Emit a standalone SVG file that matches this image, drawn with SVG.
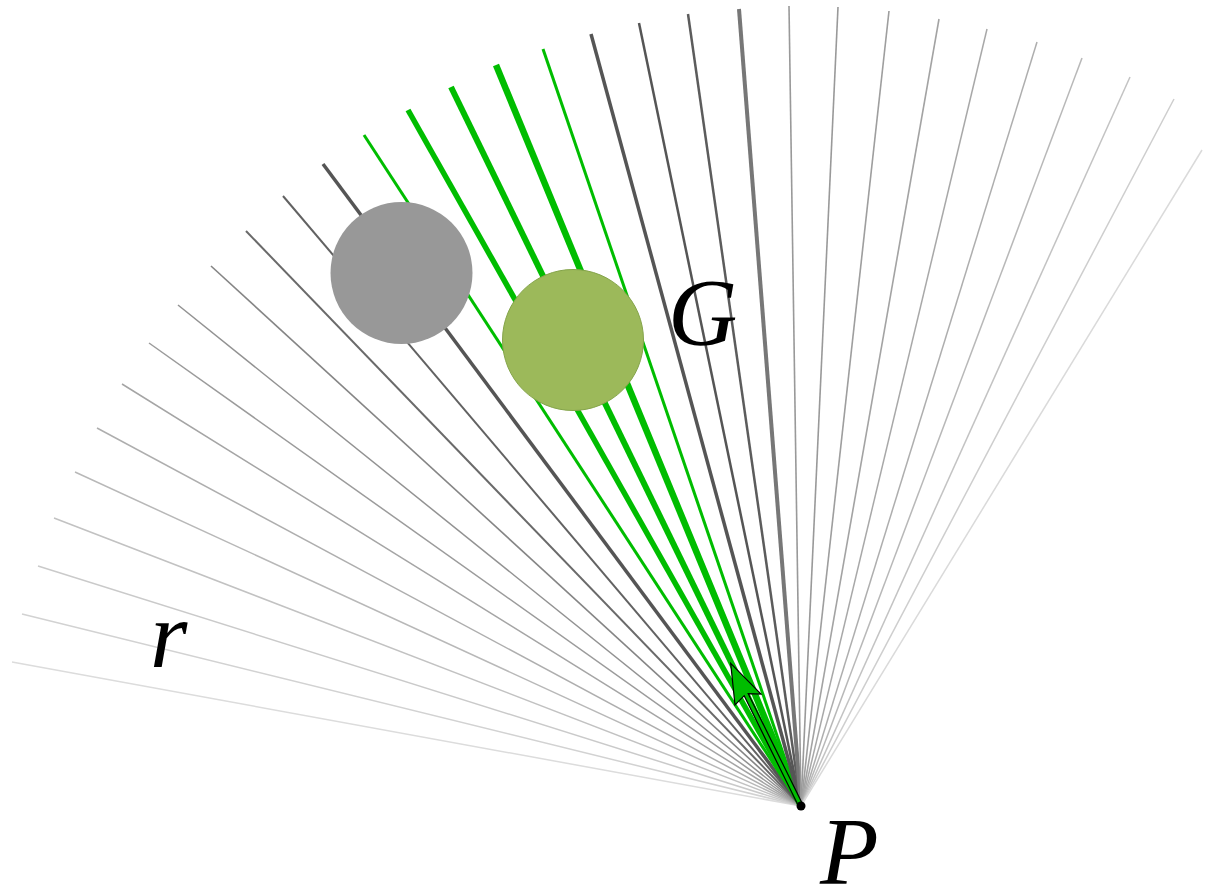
<svg xmlns="http://www.w3.org/2000/svg" width="1216" height="889" viewBox="0 0 1216 889">
<style>
.ray{fill:none;stroke-linecap:butt}
.g{stroke:#00bd00}
.lbl{font-family:"Liberation Serif","DejaVu Serif",serif;font-style:italic;font-size:96px;fill:#000}
</style>
<rect width="1216" height="889" fill="#fff"/>
<g id="connectors">
<line class="ray" x1="801" y1="806" x2="12" y2="662" stroke="#dcdcdc" stroke-width="1.5"/>
<line class="ray" x1="801" y1="806" x2="22" y2="614" stroke="#d2d2d2" stroke-width="1.5"/>
<line class="ray" x1="801" y1="806" x2="38" y2="566" stroke="#cacaca" stroke-width="1.5"/>
<line class="ray" x1="801" y1="806" x2="54" y2="518" stroke="#c2c2c2" stroke-width="1.5"/>
<line class="ray" x1="801" y1="806" x2="75" y2="472" stroke="#b8b8b8" stroke-width="1.5"/>
<line class="ray" x1="801" y1="806" x2="97" y2="428" stroke="#aeaeae" stroke-width="1.5"/>
<line class="ray" x1="801" y1="806" x2="122" y2="384" stroke="#a5a5a5" stroke-width="1.5"/>
<line class="ray" x1="801" y1="806" x2="149" y2="343" stroke="#9b9b9b" stroke-width="1.5"/>
<line class="ray" x1="801" y1="806" x2="178" y2="305" stroke="#929292" stroke-width="1.5"/>
<line class="ray" x1="801" y1="806" x2="211" y2="266" stroke="#858585" stroke-width="1.6"/>
<line class="ray" x1="801" y1="806" x2="246" y2="231" stroke="#6a6a6a" stroke-width="2"/>
<line class="ray" x1="801" y1="806" x2="283" y2="196" stroke="#626262" stroke-width="2"/>
<line class="ray" x1="801" y1="806" x2="323" y2="164" stroke="#555555" stroke-width="3.5"/>
<line class="ray g" x1="801" y1="806" x2="364" y2="135" stroke-width="3"/>
<line class="ray g" x1="801" y1="806" x2="408" y2="110" stroke-width="5.5"/>
<line class="ray g" x1="801" y1="806" x2="451" y2="87" stroke-width="6"/>
<line class="ray g" x1="801" y1="806" x2="496" y2="65" stroke-width="6.5"/>
<line class="ray g" x1="801" y1="806" x2="543" y2="49" stroke-width="3"/>
<line class="ray" x1="801" y1="806" x2="591" y2="34" stroke="#555555" stroke-width="3.5"/>
<line class="ray" x1="801" y1="806" x2="639" y2="23" stroke="#555555" stroke-width="2.5"/>
<line class="ray" x1="801" y1="806" x2="688" y2="14" stroke="#5c5c5c" stroke-width="2.5"/>
<line class="ray" x1="801" y1="806" x2="739" y2="9" stroke="#777777" stroke-width="4"/>
<line class="ray" x1="801" y1="806" x2="789" y2="6" stroke="#999999" stroke-width="1.6"/>
<line class="ray" x1="801" y1="806" x2="838" y2="7" stroke="#999999" stroke-width="1.6"/>
<line class="ray" x1="801" y1="806" x2="889" y2="11" stroke="#9e9e9e" stroke-width="1.6"/>
<line class="ray" x1="801" y1="806" x2="939" y2="19" stroke="#a3a3a3" stroke-width="1.6"/>
<line class="ray" x1="801" y1="806" x2="987" y2="29" stroke="#a8a8a8" stroke-width="1.5"/>
<line class="ray" x1="801" y1="806" x2="1037" y2="42" stroke="#aeaeae" stroke-width="1.5"/>
<line class="ray" x1="801" y1="806" x2="1082" y2="58" stroke="#b8b8b8" stroke-width="1.5"/>
<line class="ray" x1="801" y1="806" x2="1130" y2="77" stroke="#c3c3c3" stroke-width="1.5"/>
<line class="ray" x1="801" y1="806" x2="1174" y2="99" stroke="#cecece" stroke-width="1.5"/>
<line class="ray" x1="801" y1="806" x2="1202" y2="150" stroke="#dadada" stroke-width="1.5"/>
<polygon points="730.7,663.3 761,694 748.2,693.7 803,805 799,807 744.2,695.7 735,705" fill="#00bd00" stroke="#000" stroke-width="1.2" stroke-linejoin="miter"/>
</g>
<g id="obstacle-gray"><circle cx="401.5" cy="273" r="71" fill="#989898"/></g>
<g id="obstacle-green"><circle cx="573" cy="340" r="70.5" fill="#9cb95a" stroke="#84a44a" stroke-width="1"/></g>
<g id="point-P"><circle cx="801" cy="806" r="4.5" fill="#000"/><text class="lbl" x="820" y="884">P</text></g>
<g id="label-G"><text class="lbl" x="668" y="345">G</text></g>
<g id="label-r"><text class="lbl" x="150" y="667">r</text></g>
</svg>
